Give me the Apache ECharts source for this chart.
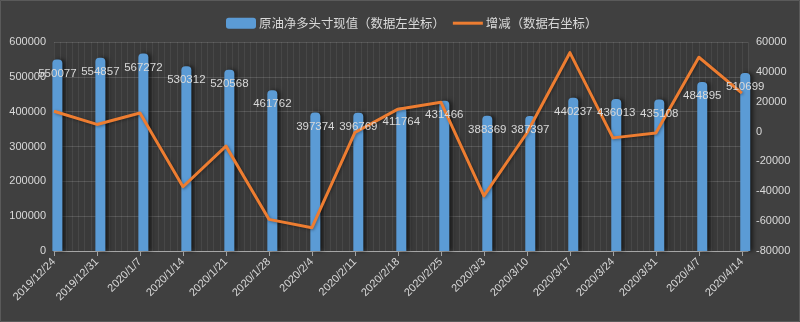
<!DOCTYPE html>
<html>
<head>
<meta charset="utf-8">
<script src="https://cdn.jsdelivr.net/npm/echarts@6/dist/echarts.min.js"></script>
<style>
  html, body { margin: 0; padding: 0; background: #404040; }
  #chart { width: 800px; height: 322px; }
</style>
</head>
<body>
<div id="chart"></div>
<script>
// Weekly report dates
const categories = ['2019/12/24', '2019/12/31', '2020/1/7', '2020/1/14', '2020/1/21', '2020/1/28',
  '2020/2/4', '2020/2/11', '2020/2/18', '2020/2/25', '2020/3/3', '2020/3/10', '2020/3/17',
  '2020/3/24', '2020/3/31', '2020/4/7', '2020/4/14'];
// Crude oil net long position (left axis)
const netLongValues = [550077, 554857, 567272, 530312, 520568, 461762, 397374, 396769, 411764,
  431466, 388369, 387397, 440237, 436013, 435108, 484895, 510699];
// Week-over-week change (right axis)
const changeValues = [13600, 4780, 12415, -36960, -9744, -58806, -64388, -605, 14995, 19702,
  -43097, -972, 52840, -4224, -905, 49787, 25804];
// Axis ranges: [min, max, step]
const leftAxisRange = [0, 600000, 100000];
const rightAxisRange = [-80000, 60000, 20000];

const barName = '原油净多头寸现值（数据左坐标）';
const lineName = '增减（数据右坐标）';

// Day offset of each report date from the first one (date axis)
function toUTC(s) {
  const [y, m, d] = s.split('/').map(Number);
  return Date.UTC(y, m - 1, d);
}
const t0 = toUTC(categories[0]);
const days = categories.map(c => Math.round((toUTC(c) - t0) / 86400000));
const lastDay = days[days.length - 1];
const span = lastDay + 1;          // axis covers one extra day after the last report
const barShift = 0.55;             // columns sit in the middle of their day slot

const lineData = days.map((d, i) => [d, changeValues[i]]);
const barData = days.map((d, i) => [d, netLongValues[i]]);

const textColor = '#d9d9d9';
const numFont = '"Liberation Sans", Arial, sans-serif';
const plainNumber = v => String(v);

const chart = echarts.init(document.getElementById('chart'), null, { renderer: 'canvas' });
chart.setOption({
  backgroundColor: '#404040',
  animation: false,
  graphic: [{
    type: 'rect',
    shape: { x: 0.5, y: 0.5, width: 799, height: 321 },
    style: { fill: 'none', stroke: '#5a5a5a', lineWidth: 1 },
    silent: true
  }],
  legend: {
    left: 221,
    top: 12,
    itemWidth: 30,
    itemHeight: 11,
    itemGap: 8,
    data: [
      { name: barName, icon: 'roundRect' },
      // plain stroke for the line entry
      { name: lineName, icon: 'path://M0,0 L30,0 L30,3 L0,3 Z', itemStyle: { color: '#ed7d31' } }
    ],
    textStyle: { color: textColor, fontSize: 12.4, fontFamily: '"Noto Sans CJK SC", sans-serif', padding: [0, 0, 0, -2] }
  },
  grid: {
    left: 54,
    right: 52,
    top: 42,
    bottom: 71,
    show: true,
    backgroundColor: '#3a3a3a',
    borderWidth: 0
  },
  xAxis: [
    {
      // visible date axis: weekly ticks and labels
      type: 'value',
      min: 0,
      max: span,
      interval: 7,
      axisLine: { show: true, lineStyle: { color: '#a6a6a6', width: 1 } },
      axisTick: { show: true, customValues: days, length: 5, lineStyle: { color: '#a6a6a6' } },
      axisLabel: {
        customValues: days,
        rotate: 45,
        margin: 9,
        color: textColor,
        fontSize: 11,
        fontFamily: numFont,
        formatter: v => {
          const i = days.indexOf(v);
          return i >= 0 ? categories[i] : '';
        }
      },
      splitLine: { show: false }
    },
    {
      // same date scale, shifted half a day for the columns
      type: 'value',
      min: -barShift,
      max: span - barShift,
      show: false
    },
    {
      // daily gridlines
      type: 'value',
      min: 0,
      max: span,
      interval: 1,
      axisLine: { show: false },
      axisTick: { show: false },
      axisLabel: { show: false },
      splitLine: { show: true, lineStyle: { color: 'rgba(255,255,255,0.07)', width: 1 } }
    }
  ],
  yAxis: [
    {
      type: 'value',
      min: leftAxisRange[0],
      max: leftAxisRange[1],
      interval: leftAxisRange[2],
      axisLine: { show: false },
      axisTick: { show: false },
      axisLabel: { color: textColor, fontSize: 11, fontFamily: numFont, margin: 8, formatter: plainNumber },
      splitLine: { show: true, lineStyle: { color: 'rgba(255,255,255,0.14)', width: 1 } }
    },
    {
      type: 'value',
      min: rightAxisRange[0],
      max: rightAxisRange[1],
      interval: rightAxisRange[2],
      axisLine: { show: false },
      axisTick: { show: false },
      axisLabel: { color: textColor, fontSize: 11, fontFamily: numFont, margin: 8, formatter: plainNumber },
      splitLine: { show: false }
    }
  ],
  series: [
    {
      name: barName,
      type: 'bar',
      xAxisIndex: 1,
      yAxisIndex: 0,
      data: barData,
      barWidth: 10,
      barGap: '-100%',
      clip: false,
      z: 2,
      itemStyle: {
        color: '#5b9bd5',
        borderRadius: [4, 4, 0, 0],
        shadowColor: 'rgba(0,0,0,0.55)',
        shadowBlur: 4,
        shadowOffsetX: 3,
        shadowOffsetY: 0
      }
    },
    {
      name: lineName,
      type: 'line',
      xAxisIndex: 0,
      yAxisIndex: 1,
      data: lineData,
      symbol: 'none',
      z: 3,
      lineStyle: {
        color: '#ed7d31',
        width: 3,
        join: 'round',
        shadowColor: 'rgba(0,0,0,0.35)',
        shadowBlur: 3,
        shadowOffsetX: 1,
        shadowOffsetY: 1
      },
      itemStyle: { color: '#ed7d31' }
    },
    {
      // value labels of the columns, drawn above the line
      name: barName + '-label',
      type: 'bar',
      xAxisIndex: 1,
      yAxisIndex: 0,
      data: barData,
      barWidth: 10,
      barGap: '-100%',
      clip: false,
      silent: true,
      z: 5,
      itemStyle: { color: 'rgba(0,0,0,0)' },
      label: {
        show: true,
        position: 'insideTop',
        distance: 8,
        color: textColor,
        fontSize: 11.5,
        fontFamily: numFont,
        textBorderWidth: 0,
        formatter: p => String(p.value[1])
      }
    }
  ]
});
</script>
</body>
</html>
